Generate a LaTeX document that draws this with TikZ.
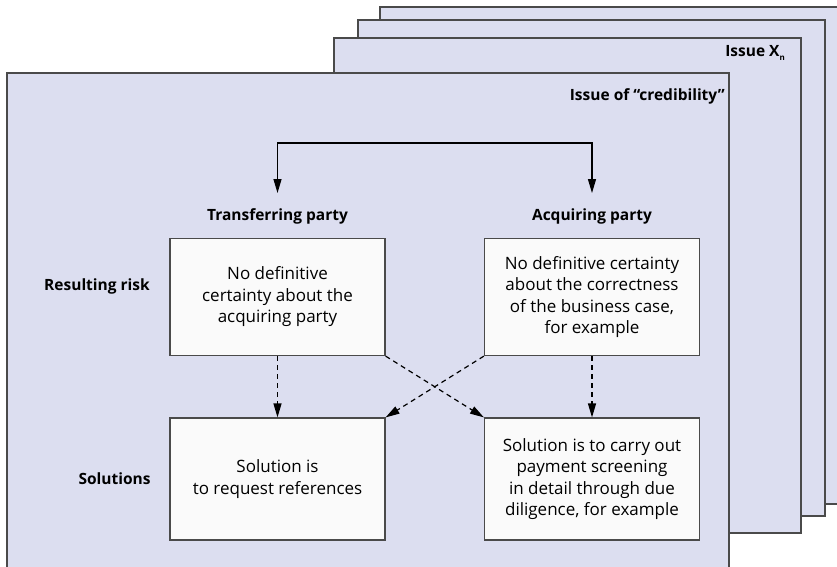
\documentclass[tikz,border=0pt]{standalone}
\usepackage{fontspec}
\setmainfont{Open Sans}
\usetikzlibrary{arrows.meta}
\definecolor{pagefill}{HTML}{DCDEF0}
\definecolor{pageline}{HTML}{4A4A4A}
\definecolor{boxfill}{HTML}{FAFAFA}
\tikzset{
  page/.style={fill=pagefill, draw=pageline, line width=1.2pt},
  riskbox/.style={draw=pageline, fill=boxfill, line width=1.2pt, minimum width=215pt,
    align=center, font=\fontsize{17}{21.5}\selectfont, inner sep=0pt},
  heading/.style={font=\fontsize{15.5}{18}\selectfont\bfseries, inner sep=0pt},
  tip/.style={Triangle[length=14pt,width=8pt]},
  flow/.style={line width=1.2pt, -{Triangle[length=14pt,width=8pt]}},
  dashflow/.style={flow, dash pattern=on 5pt off 4pt},
}
\begin{document}
\begin{tikzpicture}[x=1pt,y=-1pt]
\useasboundingbox (0,0) rectangle (837,566);
\fill[white] (0,0) rectangle (837,566);
\clip (0,0) rectangle (837,566);
% stacked issue sheets, back to front
\draw[page] (380,7) rectangle (850,504);
\draw[page] (358,20) rectangle (825,516);
\draw[page] (334,38) rectangle (801,533);
\node[heading, anchor=east] (issuex) at (785,53) {Issue X\raisebox{-4pt}{\fontsize{8}{8}\selectfont n}};
\draw[page] (7,73) rectangle (729,580);
\node[heading, anchor=east] (issuecred) at (725,96) {Issue of “credibility”};
% column headings and row labels
\node[heading] (tp) at (277.5,216) {Transferring party};
\node[heading] (ap) at (592,216) {Acquiring party};
\node[heading] (rr) at (97,286) {Resulting risk};
\node[heading] (sol) at (114.5,479) {Solutions};
% boxes
\node[riskbox, minimum height=117pt] (r1) at (277.5,297)
  {No definitive\\certainty about the\\acquiring party};
\node[riskbox, minimum height=117pt] (r2) at (592,297)
  {No definitive certainty\\about the correctness\\of the business case,\\for example};
\node[riskbox, minimum height=122pt] (s1) at (277.5,479)
  {Solution is\\to request references};
\node[riskbox, minimum height=122pt] (s2) at (592,479)
  {Solution is to carry out\\payment screening\\in detail through due\\diligence, for example};
% split arrow to both parties
\coordinate (fork) at (434.5,143);
\draw[line width=1.2pt, {Triangle[length=14pt,width=8pt]}-{Triangle[length=14pt,width=8pt]},
  shorten <=15pt, shorten >=15pt] (tp.north) |- (fork) -| (ap.north);
% risks lead to solutions
\draw[dashflow] (r1.south) -- (s1.north);
\draw[dashflow] (r2.south) -- (s2.north);
\draw[dashflow] (r1.south east) -- (s2.north west);
\draw[dashflow] (r2.south west) -- (s1.north east);
\end{tikzpicture}
\end{document}
